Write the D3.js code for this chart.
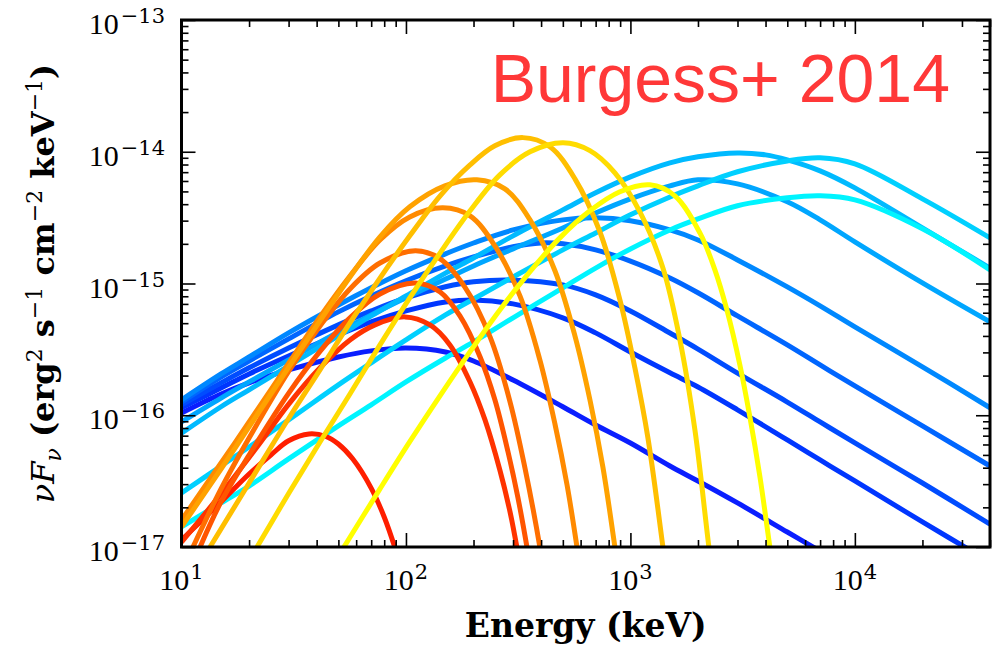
<!DOCTYPE html>
<html>
<head>
<meta charset="utf-8">
<script src="https://cdnjs.cloudflare.com/ajax/libs/d3/7.8.5/d3.min.js"></script>
<style>
  body { margin: 0; background: #fff; }
  svg { display: block; }
</style>
</head>
<body>
<svg id="chart" width="998" height="647"></svg>
<script>
// Axis ranges and tick values
const energyDomain = [10, 4e4];
const fluxDomain = [1e-17, 1e-13];
const energyMajorTicks = [10, 100, 1000, 10000];
const energyTickExponents = ["1", "2", "3", "4"];
const fluxMajorTicks = [1e-17, 1e-16, 1e-15, 1e-14, 1e-13];
const fluxTickExponents = ["\u221217", "\u221216", "\u221215", "\u221214", "\u221213"];

// Cutoff spectra, [energy keV, nuFnu]
const warm1 = [[10,1.13e-17],[15,2.2e-17],[20,3.58e-17],[25,4.99e-17],[30,6.4e-17],[37,7.21e-17],[44,6.9e-17],[50,6.05e-17],[58,4.65e-17],[70,2.8e-17],[80,1.69e-17],[90,9.48e-18],[95,6.92e-18]];
const warm2 = [[10,1.09e-17],[15,2.53e-17],[21.7,5.74e-17],[30.1,1.22e-16],[41.4,2.29e-16],[56.3,3.73e-16],[72.8,4.85e-16],[99,5.58e-16],[128,4.85e-16],[157,3.42e-16],[193,1.79e-16],[225,9.22e-17],[262,3.84e-17],[291,1.84e-17],[312,1.0e-17],[339,4.8e-18]];
const warm3 = [[12.1,1.0e-17],[15,2.2e-17],[20,4.99e-17],[30.1,1.48e-16],[41.4,3.05e-16],[56.3,5.48e-16],[76.6,8.33e-16],[110,1.01e-15],[142,8.63e-16],[174,5.67e-16],[214,2.77e-16],[249,1.31e-16],[285,5.26e-17],[315,2.4e-17],[346,1.0e-17],[368,5.24e-18]];
const warm4 = [[11.25,1.0e-17],[15,2.76e-17],[20,6.72e-17],[30.1,2.17e-16],[41.4,4.76e-16],[56.3,9.1e-16],[76.6,1.43e-15],[110,1.77e-15],[142,1.54e-15],[183,9.4e-16],[237,3.93e-16],[291,1.26e-16],[339,3.98e-17],[395,1.0e-17],[425,4.39e-18]];
const warm5 = [[10,1.6e-17],[15,4.34e-17],[20,8.89e-17],[30.1,2.5e-16],[41.4,5.58e-16],[56.3,1.14e-15],[76.6,2.14e-15],[104,3.2e-15],[146,3.75e-15],[193,3.26e-15],[249,1.93e-15],[322,8.05e-16],[395,2.63e-16],[461,8.6e-17],[522,2.96e-17],[578,1.0e-17],[627,3.76e-18]];
const warm6 = [[10,1.42e-17],[15,3.91e-17],[20,8.15e-17],[30.1,2.33e-16],[41.4,5.2e-16],[56.3,1.12e-15],[76.6,2.26e-15],[104,3.82e-15],[149,5.51e-15],[207,6.13e-15],[276,5.23e-15],[357,3.04e-15],[461,1.25e-15],[566,4.0e-16],[660,1.31e-16],[754,4.05e-17],[853,1.0e-17],[917,4.25e-18]];
const warm7 = [[13.4,1.0e-17],[20,3.06e-17],[30.1,9.53e-17],[41.4,2.21e-16],[56.3,5.02e-16],[76.6,1.1e-15],[104,2.3e-15],[142,4.63e-15],[193,7.95e-15],[249,1.11e-14],[332,1.28e-14],[438,1.09e-14],[566,6.23e-15],[731,2.47e-15],[898,7.5e-16],[1047,2.29e-16],[1197,6.72e-17],[1396,1.0e-17],[1500,3.96e-18]];
const warm8 = [[21.7,1.0e-17],[30.1,2.57e-17],[41.4,6.26e-17],[56.3,1.45e-16],[76.6,3.42e-16],[104,7.78e-16],[142,1.71e-15],[193,3.56e-15],[262,6.68e-15],[357,9.98e-15],[501,1.17e-14],[660,1.02e-14],[853,6.92e-15],[1102,3.5e-15],[1396,1.31e-15],[1662,3.73e-16],[1938,7.74e-17],[2237,1.0e-17],[2403,3.96e-18]];
const warm9 = [[50.8,8.92e-18],[76.6,2.76e-17],[104,6.3e-17],[142,1.41e-16],[193,3.04e-16],[262,6.3e-16],[357,1.23e-15],[485,2.22e-15],[660,3.56e-15],[898,4.97e-15],[1221,5.61e-15],[1578,4.63e-15],[2040,2.42e-15],[2379,1.27e-15],[2691,6.3e-16],[3074,2.41e-16],[3407,9.7e-17],[3775,3.42e-17],[4182,1.0e-17],[4540,3.79e-18]];

// Broken power-law spectra, [energy keV, nuFnu]
const cool1 = [[10,1.04e-16],[15,1.45e-16],[20,1.76e-16],[30,2.21e-16],[50,2.77e-16],[70,3.08e-16],[100,3.24e-16],[150,3.02e-16],[200,2.58e-16],[300,1.85e-16],[500,1.16e-16],[700,8.44e-17],[1000,6.16e-17],[1500,4.12e-17],[2000,3.17e-17],[3000,2.16e-17],[5000,1.3e-17],[7000,9.3e-18]];
const cool2 = [[10,1.14e-16],[15,1.61e-16],[20,2.06e-16],[30,2.82e-16],[50,4.07e-16],[70,5.11e-16],[100,6.19e-16],[150,7.24e-16],[200,7.5e-16],[300,7.0e-16],[500,5.49e-16],[700,4.22e-16],[1000,3.02e-16],[1500,2.1e-16],[2000,1.64e-16],[3000,1.1e-16],[5000,6.49e-17],[7000,4.58e-17],[10000,3.17e-17],[20000,1.55e-17],[40000,7.7e-18]];
const cool3 = [[10,1.2e-16],[15,1.76e-16],[20,2.29e-16],[30,3.24e-16],[50,4.85e-16],[70,6.19e-16],[100,7.78e-16],[150,9.44e-16],[200,1.03e-15],[300,1.06e-15],[500,9.76e-16],[700,8.2e-16],[1000,6.19e-16],[1500,4.21e-16],[2000,3.18e-16],[3000,2.09e-16],[5000,1.26e-16],[7000,8.9e-17],[10000,6.16e-17],[20000,3.06e-17],[40000,1.49e-17]];
const cool4 = [[10,1.26e-16],[15,1.95e-16],[20,2.58e-16],[30,3.8e-16],[50,6.09e-16],[70,8.05e-16],[100,1.05e-15],[150,1.36e-15],[200,1.59e-15],[300,1.9e-15],[400,2.03e-15],[500,2.0e-15],[700,1.8e-15],[1000,1.48e-15],[1500,1.1e-15],[2000,8.5e-16],[3000,5.67e-16],[5000,3.42e-16],[7000,2.41e-16],[10000,1.67e-16],[20000,8.3e-17],[40000,4.12e-17]];
const cool5 = [[10,1.31e-16],[15,2.06e-16],[20,2.77e-16],[30,4.22e-16],[50,6.87e-16],[70,9.28e-16],[100,1.25e-15],[150,1.68e-15],[200,2.03e-15],[300,2.55e-15],[500,3.04e-15],[700,3.15e-15],[1000,2.99e-15],[1500,2.55e-15],[2000,2.14e-15],[3000,1.51e-15],[5000,9.42e-16],[7000,6.76e-16],[10000,4.68e-16],[20000,2.33e-16],[40000,1.14e-16]];
const cool6 = [[10,8.9e-17],[15,1.35e-16],[20,1.79e-16],[30,2.63e-16],[50,4.29e-16],[70,5.77e-16],[100,7.78e-16],[150,1.08e-15],[200,1.36e-15],[300,1.83e-15],[500,2.64e-15],[700,3.43e-15],[1000,4.39e-15],[1500,5.51e-15],[2000,6.12e-15],[3000,5.7e-15],[5000,4.17e-15],[7000,3.04e-15],[10000,2.07e-15],[20000,1.01e-15],[40000,5.11e-16]];
const cool7 = [[10,7.3e-17],[15,1.16e-16],[20,1.56e-16],[30,2.37e-16],[50,4.0e-16],[70,5.67e-16],[100,8.05e-16],[150,1.2e-15],[200,1.56e-15],[300,2.3e-15],[500,3.62e-15],[700,4.88e-15],[1000,6.44e-15],[1500,8.23e-15],[2000,9.15e-15],[3000,9.8e-15],[4000,9.47e-15],[5000,8.68e-15],[7000,7.16e-15],[10000,5.32e-15],[20000,2.64e-15],[40000,1.31e-15]];
const cool8 = [[10,2.57e-17],[15,4.12e-17],[20,5.74e-17],[30,9.22e-17],[50,1.7e-16],[70,2.5e-16],[100,3.73e-16],[150,5.77e-16],[200,7.63e-16],[300,1.12e-15],[500,1.8e-15],[700,2.42e-15],[1000,3.32e-15],[1500,4.54e-15],[2000,5.51e-15],[3000,7.05e-15],[5000,8.52e-15],[7000,9.0e-15],[10000,8.09e-15],[20000,4.39e-15],[40000,2.22e-15]];
const cool9 = [[10,1.42e-17],[15,2.16e-17],[20,2.9e-17],[30,4.66e-17],[50,8.31e-17],[70,1.2e-16],[100,1.79e-16],[150,2.72e-16],[200,3.6e-16],[300,5.49e-16],[500,9.28e-16],[700,1.31e-15],[1000,1.83e-15],[1500,2.55e-15],[2000,3.09e-15],[3000,3.89e-15],[5000,4.47e-15],[7000,4.63e-15],[10000,4.31e-15],[20000,2.6e-15],[40000,1.27e-15]];

const warmSpectra = [warm1, warm2, warm3, warm4, warm5, warm6, warm7, warm8, warm9];
const warmColors = ["#ff1e00", "#ff3300", "#ff5500", "#ff6e00", "#ff8a00", "#ffa200", "#ffbf00", "#ffdc00", "#ffff00"];
const coolSpectra = [cool1, cool2, cool3, cool4, cool5, cool6, cool7, cool8, cool9];
const coolColors = ["#0a1eff", "#0036ff", "#004cff", "#0066ff", "#0088ff", "#00a6ff", "#00baff", "#00d0ff", "#00f4ff"];

const titleText = "Burgess+ 2014";

const svg = d3.select("#chart");
const plotLeft = 181.5, plotRight = 990, plotTop = 20, plotBottom = 547;

const x = d3.scaleLog().domain(energyDomain).range([plotLeft, plotRight]);
const y = d3.scaleLog().domain(fluxDomain).range([plotBottom, plotTop]);

svg.append("defs").append("clipPath").attr("id", "plotClip")
  .append("rect").attr("x", plotLeft).attr("y", plotTop)
  .attr("width", plotRight - plotLeft).attr("height", plotBottom - plotTop);

const line = d3.line()
  .x(d => x(d[0]))
  .y(d => y(d[1]))
  .curve(d3.curveCatmullRom.alpha(0.5));

const plot = svg.append("g").attr("clip-path", "url(#plotClip)");

plot.selectAll("path.cool").data(coolSpectra).join("path")
  .attr("class", "cool")
  .attr("d", line)
  .attr("fill", "none")
  .attr("stroke", (d, i) => coolColors[i])
  .attr("stroke-width", 5)
  .attr("stroke-linejoin", "round");

plot.selectAll("path.warm").data(warmSpectra).join("path")
  .attr("class", "warm")
  .attr("d", line)
  .attr("fill", "none")
  .attr("stroke", (d, i) => warmColors[i])
  .attr("stroke-width", 5)
  .attr("stroke-linejoin", "round");

// Inward ticks on all four sides
const isMajor = v => Math.abs(Math.log10(v) - Math.round(Math.log10(v))) < 1e-6;
const xMinor = x.ticks().filter(v => !isMajor(v));
const yMinor = y.ticks().filter(v => !isMajor(v));

function styleAxis(g) {
  g.select(".domain").remove();
  g.selectAll("line").attr("stroke", "#000").attr("stroke-width", 1.6);
  g.selectAll("text").remove();
}

svg.append("g").attr("transform", `translate(0,${plotBottom})`)
  .call(d3.axisBottom(x).tickValues(energyMajorTicks).tickSize(-14)).call(styleAxis);
svg.append("g").attr("transform", `translate(0,${plotBottom})`)
  .call(d3.axisBottom(x).tickValues(xMinor).tickSize(-7)).call(styleAxis);
svg.append("g").attr("transform", `translate(0,${plotTop})`)
  .call(d3.axisTop(x).tickValues(energyMajorTicks).tickSize(-14)).call(styleAxis);
svg.append("g").attr("transform", `translate(0,${plotTop})`)
  .call(d3.axisTop(x).tickValues(xMinor).tickSize(-7)).call(styleAxis);
svg.append("g").attr("transform", `translate(${plotLeft},0)`)
  .call(d3.axisLeft(y).tickValues(fluxMajorTicks).tickSize(-14)).call(styleAxis);
svg.append("g").attr("transform", `translate(${plotLeft},0)`)
  .call(d3.axisLeft(y).tickValues(yMinor).tickSize(-7)).call(styleAxis);
svg.append("g").attr("transform", `translate(${plotRight},0)`)
  .call(d3.axisRight(y).tickValues(fluxMajorTicks).tickSize(-14)).call(styleAxis);
svg.append("g").attr("transform", `translate(${plotRight},0)`)
  .call(d3.axisRight(y).tickValues(yMinor).tickSize(-7)).call(styleAxis);

svg.append("rect")
  .attr("x", plotLeft).attr("y", plotTop)
  .attr("width", plotRight - plotLeft).attr("height", plotBottom - plotTop)
  .attr("fill", "none").attr("stroke", "#000").attr("stroke-width", 3);

// Tick labels: 10 with superscript exponent
const tickFont = "'Liberation Serif', 'DejaVu Serif', serif";
const supFont = "'DejaVu Serif', serif";
const xLabels = svg.append("g").selectAll("text").data(energyMajorTicks).join("text")
  .attr("x", d => x(d))
  .attr("y", 590)
  .attr("text-anchor", "middle")
  .attr("font-family", tickFont)
  .attr("font-size", 30)
  .attr("fill", "#000");
xLabels.append("tspan").text("10");
xLabels.append("tspan").attr("dy", -11).attr("dx", 1).attr("font-size", 21)
  .attr("font-family", supFont).text((d, i) => energyTickExponents[i]);

const yLabels = svg.append("g").selectAll("text").data(fluxMajorTicks).join("text")
  .attr("x", 165)
  .attr("y", d => y(d) + 14)
  .attr("text-anchor", "end")
  .attr("font-family", tickFont)
  .attr("font-size", 30)
  .attr("fill", "#000");
yLabels.append("tspan").text("10");
yLabels.append("tspan").attr("dy", -11).attr("dx", 2).attr("font-size", 21)
  .attr("font-family", supFont).text((d, i) => fluxTickExponents[i]);

// Axis titles
svg.append("text")
  .attr("x", (plotLeft + plotRight) / 2).attr("y", 637)
  .attr("text-anchor", "middle")
  .attr("font-family", "'DejaVu Serif', serif")
  .attr("font-weight", "bold")
  .attr("font-size", 33)
  .text("Energy (keV)");

const yTitle = svg.append("text")
  .attr("transform", `translate(54,${(plotTop + plotBottom) / 2}) rotate(-90)`)
  .attr("text-anchor", "middle")
  .attr("font-family", "'DejaVu Serif', serif")
  .attr("font-size", 32);
const yParts = [
  {t: "\u03bd", s: "italic", w: "normal", dy: 0},
  {t: "F", s: "italic", w: "normal", dy: 0},
  {t: "\u03bd", s: "italic", w: "normal", dy: 7, size: 22},
  {t: " (erg", s: "normal", w: "bold", dy: -7},
  {t: "2", s: "normal", w: "normal", dy: -12, size: 22},
  {t: " s", s: "normal", w: "bold", dy: 12},
  {t: "\u22121", s: "normal", w: "normal", dy: -12, size: 22},
  {t: " cm", s: "normal", w: "bold", dy: 12},
  {t: "\u22122", s: "normal", w: "normal", dy: -12, size: 22},
  {t: " keV", s: "normal", w: "bold", dy: 12},
  {t: "\u22121", s: "normal", w: "normal", dy: -12, size: 22},
  {t: ")", s: "normal", w: "bold", dy: 12}
];
yParts.forEach(p => {
  const ts = yTitle.append("tspan").text(p.t)
    .attr("font-style", p.s).attr("font-weight", p.w).attr("dy", p.dy);
  if (p.size) ts.attr("font-size", p.size);
});

svg.append("text")
  .attr("x", 950).attr("y", 102)
  .attr("text-anchor", "end")
  .attr("font-family", "'Liberation Sans', Arial, sans-serif")
  .attr("font-size", 68)
  .attr("fill", "#ff3838")
  .text(titleText);
</script>
</body>
</html>
